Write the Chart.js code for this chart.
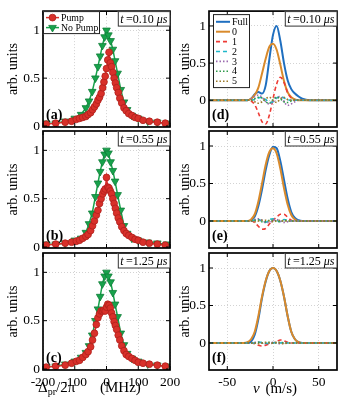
<!DOCTYPE html>
<html>
<head>
<meta charset="utf-8">
<script src="https://cdn.jsdelivr.net/npm/chart.js@4.4.0/dist/chart.umd.min.js"></script>
<style>
  body { margin: 0; background: #fff; }
  #wrap { position: relative; width: 346px; height: 416px; }
  #wrap canvas { position: absolute; left: 0; top: 0; }
</style>
</head>
<body>
<div id="wrap">
  <canvas id="pa" width="346" height="416"></canvas>
  <canvas id="pb" width="346" height="416"></canvas>
  <canvas id="pc" width="346" height="416"></canvas>
  <canvas id="pd" width="346" height="416"></canvas>
  <canvas id="pe" width="346" height="416"></canvas>
  <canvas id="pf" width="346" height="416"></canvas>
</div>
<script>
// ---------------- data ---------------- //

// probe detuning (MHz), pump on: red circles
var pumpX = [-190, -160, -130, -110, -95, -85, -75, -65, -58, -50, -44, -38, -32, -27, -22, -17, -12, -8, -4, 0,
    4, 8, 12, 16, 20, 24, 28, 32, 37, 42, 48, 55, 62, 70, 80, 90, 100, 115, 135, 160, 185];
var pumpA = [0.02, 0.03, 0.04, 0.05, 0.07, 0.08, 0.09, 0.10, 0.12, 0.14, 0.17, 0.20, 0.23, 0.27, 0.30, 0.34, 0.40, 0.46, 0.52, 0.60,
    0.69, 0.77, 0.66, 0.62, 0.56, 0.50, 0.45, 0.40, 0.35, 0.29, 0.24, 0.19, 0.16, 0.13, 0.11, 0.09, 0.08, 0.06, 0.05, 0.04, 0.03];
var pumpB = [0.02, 0.03, 0.04, 0.05, 0.06, 0.07, 0.09, 0.11, 0.13, 0.17, 0.22, 0.27, 0.33, 0.38, 0.45, 0.50, 0.55, 0.58, 0.60, 0.72,
    0.62, 0.61, 0.58, 0.55, 0.50, 0.45, 0.40, 0.35, 0.30, 0.26, 0.21, 0.17, 0.14, 0.12, 0.10, 0.08, 0.07, 0.05, 0.04, 0.03, 0.02];
var pumpC = [0.02, 0.03, 0.04, 0.06, 0.08, 0.09, 0.12, 0.15, 0.18, 0.23, 0.30, 0.37, 0.46, 0.53, 0.57, 0.60, 0.60, 0.61, 0.60, 0.64,
    0.67, 0.66, 0.63, 0.58, 0.54, 0.49, 0.45, 0.41, 0.35, 0.30, 0.24, 0.19, 0.15, 0.13, 0.11, 0.09, 0.07, 0.06, 0.05, 0.04, 0.03];

// probe detuning (MHz), no pump: green triangles
var noPumpX = [-190, -160, -130, -100, -80, -65, -55, -45, -35, -27, -20, -13, -6, 0,
    6, 13, 20, 27, 35, 45, 55, 65, 80, 100, 130, 160, 190];
var noPumpA = [0.03, 0.03, 0.05, 0.08, 0.12, 0.19, 0.26, 0.36, 0.50, 0.62, 0.73, 0.84, 0.93, 1.00,
    0.95, 0.89, 0.80, 0.68, 0.55, 0.38, 0.25, 0.17, 0.11, 0.08, 0.05, 0.04, 0.03];
var noPumpB = [0.03, 0.03, 0.04, 0.07, 0.09, 0.15, 0.24, 0.35, 0.52, 0.66, 0.78, 0.88, 0.96, 1.00,
    0.97, 0.88, 0.79, 0.68, 0.54, 0.38, 0.22, 0.14, 0.09, 0.07, 0.05, 0.04, 0.03];
var noPumpC = [0.02, 0.03, 0.05, 0.08, 0.12, 0.17, 0.24, 0.35, 0.50, 0.62, 0.75, 0.88, 0.96, 1.00,
    0.96, 0.90, 0.79, 0.67, 0.54, 0.37, 0.25, 0.16, 0.11, 0.08, 0.05, 0.04, 0.03];

// velocity (m/s) for the mode decomposition
var velocity = [-70, -40, -32, -28, -24, -20, -16, -12, -8, -4, 0, 4, 8, 12, 16, 20, 24, 28, 32, 40, 70];

var fullD  = [0, 0, 0, 0, 0.02, 0.08, 0.11, 0.09, 0.20, 0.55, 0.88, 1.00, 0.80, 0.50, 0.27, 0.15, 0.09, 0.05, 0.02, 0, 0];
var mode0D = [0, 0, 0, 0, 0.02, 0.07, 0.17, 0.36, 0.56, 0.72, 0.76, 0.68, 0.48, 0.26, 0.11, 0.04, 0.01, 0, 0, 0, 0];
var mode1D = [0, 0, 0, 0, -0.01, -0.06, -0.17, -0.29, -0.32, -0.20, 0.02, 0.22, 0.31, 0.24, 0.10, 0.03, 0, 0, 0, 0, 0];
var mode2D = [0, 0, 0, 0, 0, 0.01, 0.03, 0.04, 0.01, -0.03, -0.02, 0.03, 0.05, 0.03, 0.01, 0, 0, 0, 0, 0, 0];
var mode3D = [0, 0, 0, 0, 0.02, 0.05, 0.07, 0.04, -0.02, -0.05, -0.03, 0.04, 0.05, -0.02, -0.07, -0.05, -0.02, 0, 0, 0, 0];
var mode4D = [0, 0, 0, 0, 0, 0.02, 0.04, 0.03, -0.02, -0.04, 0.01, 0.04, 0.02, -0.02, -0.03, -0.01, 0, 0, 0, 0, 0];
var mode5D = [0, 0, 0, 0, 0, -0.02, -0.04, -0.02, 0.02, 0.04, 0, -0.03, 0.02, 0.04, 0.01, 0, 0, 0, 0, 0, 0];

var fullE  = [0, 0, 0, 0, 0.01, 0.06, 0.20, 0.42, 0.68, 0.88, 0.99, 0.97, 0.80, 0.55, 0.30, 0.12, 0.04, 0.01, 0, 0, 0];
var mode0E = [0, 0, 0, 0, 0.02, 0.09, 0.26, 0.50, 0.75, 0.92, 0.97, 0.90, 0.70, 0.44, 0.22, 0.08, 0.02, 0, 0, 0, 0];
var mode1E = [0, 0, 0, 0, 0, -0.02, -0.07, -0.11, -0.10, -0.04, 0.01, 0.05, 0.09, 0.09, 0.05, 0.01, 0, 0, 0, 0, 0];
var mode2E = [0, 0, 0, 0, 0, 0.01, 0.02, 0, -0.02, 0.02, 0.03, 0.01, -0.01, 0.02, 0.01, 0, 0, 0, 0, 0, 0];
var mode3E = [0, 0, 0, 0, 0, 0.02, 0.03, 0.01, -0.02, -0.02, 0.01, 0.02, 0, -0.02, -0.01, 0, 0, 0, 0, 0, 0];
var mode4E = [0, 0, 0, 0, 0, 0.01, 0.01, -0.01, -0.01, 0.01, 0.01, 0, -0.01, 0.01, 0, 0, 0, 0, 0, 0, 0];
var mode5E = [0, 0, 0, 0, 0, -0.01, 0, 0.01, 0.01, 0, -0.01, 0, 0.01, 0, 0, 0, 0, 0, 0, 0, 0];

var fullF  = [0, 0, 0, 0, 0.02, 0.11, 0.32, 0.60, 0.82, 0.96, 1.00, 0.96, 0.83, 0.62, 0.36, 0.15, 0.05, 0.01, 0, 0, 0];
var mode0F = [0, 0, 0, 0.01, 0.05, 0.15, 0.36, 0.62, 0.83, 0.96, 1.00, 0.96, 0.83, 0.62, 0.36, 0.15, 0.05, 0.01, 0, 0, 0];
var mode1F = [0, 0, 0, 0, 0, -0.01, -0.03, -0.04, -0.03, -0.01, 0, 0.02, 0.04, 0.03, 0.01, 0, 0, 0, 0, 0, 0];
var mode2F = [0, 0, 0, 0, 0, 0, 0.01, 0.01, 0, -0.01, 0, 0.01, 0, 0.01, 0, 0, 0, 0, 0, 0, 0];
var mode3F = [0, 0, 0, 0, 0, 0.01, 0.01, 0, -0.01, 0, 0.01, 0, -0.01, 0, 0, 0, 0, 0, 0, 0, 0];
var mode4F = [0, 0, 0, 0, 0, 0, 0.01, 0, 0, 0.01, 0, 0, 0.01, 0, 0, 0, 0, 0, 0, 0, 0];
var mode5F = [0, 0, 0, 0, 0, 0, -0.01, 0, 0.01, 0, 0, 0.01, 0, -0.01, 0, 0, 0, 0, 0, 0, 0];

var modeLabels = ["Full", "0", "1", "2", "3", "4", "5"];
var timeLabels = ["0.10", "0.55", "1.25"];
var detuneTicks = [-200, -100, 0, 100, 200];
var velocityTicks = [-50, 0, 50];
var unitTicks = [0, 0.5, 1];

// ---------------- styles ---------------- //

var FONT = '"Liberation Serif", "Times New Roman", serif';
var modeColors = ['#1f6fc0', '#d98a2b', '#ee3b35', '#1fb8c9', '#9c6bb0', '#2e9a4a', '#9d7a29'];
var modeDash = [[], [], [4, 3], [4, 3], [1.5, 2], [1.5, 2], [1.5, 2]];
var modeWidth = [2, 2, 1.6, 1.6, 1.6, 1.6, 1.6];
var rowTop = [9, 131, 253];
var rowBottom = [127, 248, 370];

function xy(xs, ys) {
    return xs.map(function (x, i) { return { x: x, y: ys[i] }; });
}

function drawMarker(ctx, style, x, y, r, color, edge) {
    ctx.beginPath();
    if (style === 'triangle') {
        ctx.moveTo(x, y + r);
        ctx.lineTo(x - r * 0.866, y - r * 0.5);
        ctx.lineTo(x + r * 0.866, y - r * 0.5);
        ctx.closePath();
    } else {
        ctx.arc(x, y, r, 0, Math.PI * 2);
    }
    ctx.fillStyle = color;
    ctx.fill();
    ctx.strokeStyle = edge;
    ctx.lineWidth = 0.8;
    ctx.stroke();
}

// frame, inward ticks, panel letter, time box, legend and x title
var decor = {
    id: 'decor',
    afterDatasetsDraw: function (chart, args, o) {
        var ctx = chart.ctx, a = chart.chartArea, sx = chart.scales.x, sy = chart.scales.y;
        ctx.save();
        ctx.strokeStyle = '#000';
        ctx.lineWidth = 1;
        ctx.beginPath();
        sx.ticks.forEach(function (t) {
            var p = sx.getPixelForValue(t.value);
            ctx.moveTo(p, a.bottom); ctx.lineTo(p, a.bottom - 4);
            ctx.moveTo(p, a.top); ctx.lineTo(p, a.top + 4);
        });
        sy.ticks.forEach(function (t) {
            var p = sy.getPixelForValue(t.value);
            ctx.moveTo(a.left, p); ctx.lineTo(a.left + 4, p);
            ctx.moveTo(a.right, p); ctx.lineTo(a.right - 4, p);
        });
        ctx.stroke();
        ctx.lineWidth = 1.7;
        ctx.strokeRect(a.left, a.top, a.right - a.left, a.bottom - a.top);

        ctx.fillStyle = '#000';
        ctx.textAlign = 'left';
        ctx.textBaseline = 'alphabetic';
        ctx.font = 'bold 14px ' + FONT;
        ctx.fillText(o.tag, a.left + 3, a.bottom - 8);

        // time label box
        var parts = [['italic ', 't'], ['', '\u2009=' + o.time + ' '], ['italic ', '\u03bcs']];
        var tw = 0;
        parts.forEach(function (p) { ctx.font = p[0] + '12px ' + FONT; tw += ctx.measureText(p[1]).width; });
        var bx = a.right - tw - 5, by = a.top;
        ctx.fillStyle = '#fff';
        ctx.fillRect(bx, by, tw + 5, 15);
        ctx.strokeStyle = '#333';
        ctx.lineWidth = 1;
        ctx.strokeRect(bx + 0.5, by + 0.5, tw + 4.5, 14.5);
        ctx.fillStyle = '#000';
        var tx = bx + 2.5;
        parts.forEach(function (p) {
            ctx.font = p[0] + '12px ' + FONT;
            ctx.fillText(p[1], tx, by + 11.5);
            tx += ctx.measureText(p[1]).width;
        });

        // legend
        if (o.legend) {
            var L = o.legend;
            var lx = a.left + L.dx, ly = a.top + L.dy;
            ctx.fillStyle = '#fff';
            ctx.fillRect(lx, ly, L.w, L.h);
            ctx.strokeStyle = '#222';
            ctx.lineWidth = 1;
            ctx.strokeRect(lx + 0.5, ly + 0.5, L.w - 1, L.h - 1);
            ctx.font = L.size + 'px ' + FONT;
            ctx.textBaseline = 'middle';
            chart.data.datasets.forEach(function (ds, i) {
                var yy = ly + L.first + i * L.rowH;
                ctx.save();
                ctx.strokeStyle = ds.borderColor;
                ctx.lineWidth = ds.borderWidth;
                ctx.setLineDash(ds.borderDash || []);
                ctx.beginPath();
                ctx.moveTo(lx + 3, yy);
                ctx.lineTo(lx + 3 + L.line, yy);
                ctx.stroke();
                ctx.restore();
                if (ds.pointRadius > 0) {
                    drawMarker(ctx, ds.pointStyle, lx + 3 + L.line / 2, yy, ds.pointRadius, ds.pointBackgroundColor, ds.pointBorderColor);
                }
                ctx.fillStyle = '#000';
                ctx.fillText(ds.label, lx + L.line + 5, yy + 0.5);
            });
            ctx.textBaseline = 'alphabetic';
        }

        // x axis titles (bottom row only)
        ctx.fillStyle = '#000';
        if (o.xTitle === 'detune') {
            var x0 = 38, base = 392;
            ctx.font = '15px ' + FONT;
            ctx.fillText('\u0394', x0, base);
            x0 += ctx.measureText('\u0394').width;
            ctx.font = '10px ' + FONT;
            ctx.fillText('pr', x0, base + 3);
            x0 += ctx.measureText('pr').width;
            ctx.font = '15px ' + FONT;
            ctx.fillText('/2\u03c0', x0, base);
            ctx.fillText('(MHz)', 100, base);
        } else if (o.xTitle === 'velocity') {
            ctx.font = 'italic 15px ' + FONT;
            ctx.fillText('v', 253, 393);
            var vw = ctx.measureText('v ').width;
            ctx.font = '15px ' + FONT;
            ctx.fillText('(m/s)', 253 + vw + 2, 393);
        }
        ctx.restore();
    }
};

function makePanel(id, col, row, datasets, extra) {
    var bottomRow = row === 2;
    var xH = bottomRow ? 30 : 0;
    var yW = col === 0 ? 43 : 37;
    var padLeft = col === 0 ? 0 : 172;
    var right = col === 0 ? 170 : 337;
    var xTicks = col === 0 ? detuneTicks : velocityTicks;
    var gridStyle = { color: '#c8c8c8', lineWidth: 0.8, drawTicks: false };
    return new Chart(document.getElementById(id), {
        type: 'line',
        data: { datasets: datasets },
        options: {
            responsive: false,
            animation: false,
            devicePixelRatio: 1,
            layout: { padding: { left: padLeft, right: 346 - right, top: rowTop[row], bottom: 416 - rowBottom[row] - xH } },
            plugins: { legend: { display: false }, tooltip: { enabled: false }, decor: extra },
            scales: {
                x: {
                    type: 'linear',
                    min: col === 0 ? -200 : -70,
                    max: col === 0 ? 200 : 70,
                    afterFit: function (s) { s.height = xH; },
                    afterBuildTicks: function (s) { s.ticks = xTicks.map(function (v) { return { value: v }; }); },
                    grid: gridStyle,
                    border: { display: false, dash: [1, 2] },
                    ticks: {
                        display: bottomRow, autoSkip: false, maxRotation: 0, padding: 4,
                        color: '#000', font: { family: FONT, size: 13.5 },
                        callback: function (v) { return String(v); }
                    }
                },
                y: {
                    min: col === 0 ? -0.01 : -0.36,
                    max: 1.2,
                    afterFit: function (s) { s.width = yW; },
                    afterBuildTicks: function (s) { s.ticks = unitTicks.map(function (v) { return { value: v }; }); },
                    grid: gridStyle,
                    border: { display: false, dash: [1, 2] },
                    title: { display: true, text: 'arb. units', color: '#000', font: { family: FONT, size: 14 }, padding: { top: 5, bottom: 0 } },
                    ticks: {
                        padding: 3, color: '#000', font: { family: FONT, size: 13.5 },
                        callback: function (v) { return String(v); }
                    }
                }
            }
        },
        plugins: [decor]
    });
}

// ---------------- pump / no pump panels ---------------- //

function pumpSets(red, green) {
    return [{
        label: 'Pump',
        data: xy(pumpX, red),
        borderColor: '#d8302a', borderWidth: 1.5,
        pointStyle: 'circle', pointRadius: 3.4,
        pointBackgroundColor: '#d8302a', pointBorderColor: '#b01f1c', pointBorderWidth: 0.8,
        order: 1
    }, {
        label: 'No Pump',
        data: xy(noPumpX, green),
        borderColor: '#17a24b', borderWidth: 1.5,
        pointStyle: 'triangle', pointRotation: 180, pointRadius: 4.4,
        pointBackgroundColor: '#17a24b', pointBorderColor: '#0f7f38', pointBorderWidth: 0.8,
        order: 2
    }];
}

var pumpLegend = { dx: 0, dy: 0, w: 57, h: 23, first: 6.5, rowH: 10, line: 13, size: 9.8 };
var modeLegend = { dx: 4, dy: 3, w: 37, h: 74, first: 7.7, rowH: 9.9, line: 14, size: 10 };

makePanel('pa', 0, 0, pumpSets(pumpA, noPumpA), { tag: '(a)', time: timeLabels[0], legend: pumpLegend });
makePanel('pb', 0, 1, pumpSets(pumpB, noPumpB), { tag: '(b)', time: timeLabels[1] });
makePanel('pc', 0, 2, pumpSets(pumpC, noPumpC), { tag: '(c)', time: timeLabels[2], xTitle: 'detune' });

// ---------------- mode decomposition panels ---------------- //

function modeSets(series) {
    return series.map(function (ys, i) {
        return {
            label: modeLabels[i],
            data: xy(velocity, ys),
            borderColor: modeColors[i],
            borderWidth: modeWidth[i],
            borderDash: modeDash[i],
            pointRadius: 0,
            cubicInterpolationMode: 'monotone',
            order: 7 - i
        };
    });
}

makePanel('pd', 1, 0, modeSets([fullD, mode0D, mode1D, mode2D, mode3D, mode4D, mode5D]), { tag: '(d)', time: timeLabels[0], legend: modeLegend });
makePanel('pe', 1, 1, modeSets([fullE, mode0E, mode1E, mode2E, mode3E, mode4E, mode5E]), { tag: '(e)', time: timeLabels[1] });
makePanel('pf', 1, 2, modeSets([fullF, mode0F, mode1F, mode2F, mode3F, mode4F, mode5F]), { tag: '(f)', time: timeLabels[2], xTitle: 'velocity' });
</script>
</body>
</html>
